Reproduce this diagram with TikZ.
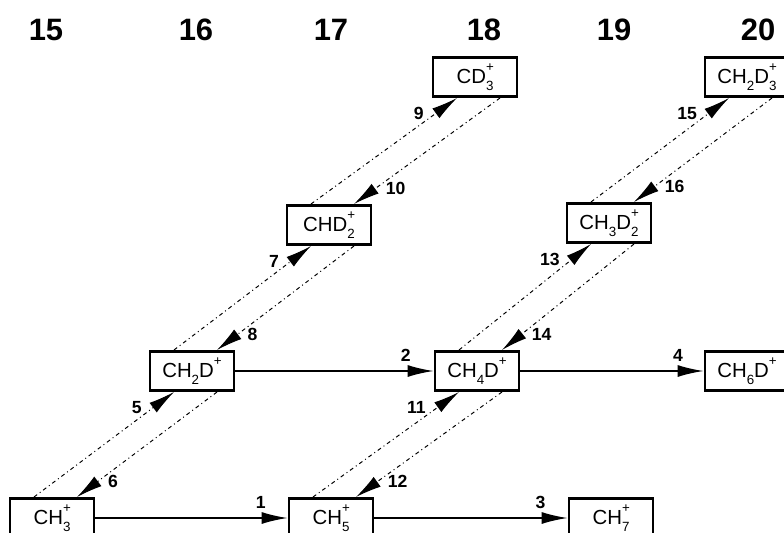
\documentclass[tikz,border=0pt]{standalone}
\usepackage{fontspec}
\setmainfont{Liberation Sans}
\usetikzlibrary{arrows.meta,positioning,calc}
\newcommand{\idx}{\fontsize{9.5}{10}\selectfont}
\newcommand{\subsup}[2]{\rlap{\raisebox{1.15ex}{\idx #2}}\raisebox{-0.6ex}{\idx #1}}
\newcommand{\sub}[1]{\raisebox{-0.6ex}{\idx #1}}
\newcommand{\plus}{\raisebox{1.15ex}{\idx +}}

\begin{document}
\begin{tikzpicture}[x=0.025cm,y=-0.025cm,>={Latex[length=0.65cm,width=0.3cm]},
  ion/.style={draw,line width=2pt,minimum width=2.1cm,minimum height=0.98cm,inner sep=0pt,font=\fontsize{14.5}{16}\selectfont},
  mass/.style={font=\fontsize{22}{26}\selectfont\bfseries},
  num/.style={font=\fontsize{12.5}{14}\selectfont\bfseries,inner sep=1pt},
  rxn/.style={->,line width=1.1pt},
  xch/.style={->,line width=0.7pt,dash pattern=on 2.8pt off 2.3pt on 0.7pt off 2.3pt}]
\clip (0,0) rectangle (784,533);
% mass numbers
\foreach \m/\x in {15/46,16/196,17/331,18/484,19/614,20/758} { \node[mass] (m\m) at (\x,30) {\m}; }
% ions
\node[ion] (ch3) at (52,518) {CH\subsup{3}{+}};
\node[ion] (ch5) at (331,518) {CH\subsup{5}{+}};
\node[ion] (ch7) at (611,518) {CH\subsup{7}{+}};
\node[ion] (ch2d) at (192,371) {CH\sub{2}D\plus};
\node[ion] (ch4d) at (477,371) {CH\sub{4}D\plus};
\node[ion] (ch6d) at (747,371) {CH\sub{6}D\plus};
\node[ion] (chd2) at (329,225) {CHD\subsup{2}{+}};
\node[ion] (ch3d2) at (609,223) {CH\sub{3}D\subsup{2}{+}};
\node[ion] (cd3) at (475,77) {CD\subsup{3}{+}};
\node[ion] (ch2d3) at (747,77) {CH\sub{2}D\subsup{3}{+}};
% addition steps
\draw[rxn] (ch3) -- node[num,pos=.86,above=5pt] {1} (ch5); \draw[rxn] (ch2d) -- node[num,pos=.86,above=5pt] {2} (ch4d);
\draw[rxn] (ch5) -- node[num,pos=.86,above=5pt] {3} (ch7); \draw[rxn] (ch4d) -- node[num,pos=.86,above=5pt] {4} (ch6d);
% exchange steps
\foreach \lo/\up/\a/\b in {ch3/ch2d/5/6,ch2d/chd2/7/8,chd2/cd3/9/10,ch5/ch4d/11/12,ch4d/ch3d2/13/14,ch3d2/ch2d3/15/16} {
  \draw[xch] ($(\lo.north)+(-18,0)$) -- node[num,pos=.852,left=7pt] {\a} ($(\up.south)+(-18,0)$);
  \draw[xch] ($(\up.south)+(25,0)$) -- node[num,pos=.852,right=6pt] {\b} ($(\lo.north)+(25,0)$);
}
\end{tikzpicture}
\end{document}
